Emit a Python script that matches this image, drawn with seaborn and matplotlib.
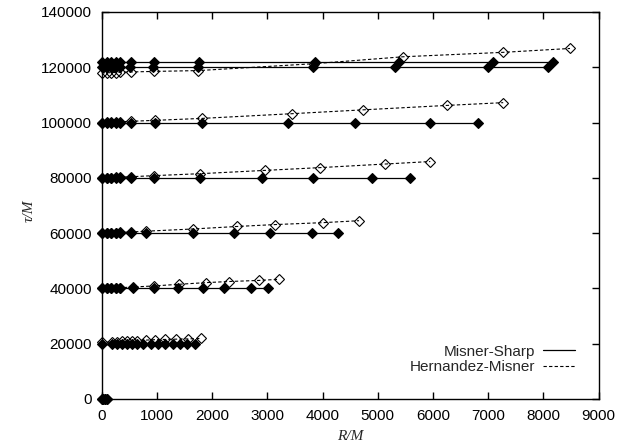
import matplotlib
matplotlib.use("Agg")
import matplotlib.pyplot as plt
from matplotlib.lines import Line2D
import pandas as pd
import seaborn as sns

# Shell radii R/M and proper times tau/M on each time slice.
# Misner-Sharp (filled diamonds, solid lines)
ms_r_0 = [0, 30, 60, 100]
ms_t_0 = 0
ms_r_20k = [0, 180, 270, 360, 450, 545, 635, 755, 895, 1025, 1145, 1285, 1420, 1550, 1690]
ms_t_20k = 20000
ms_r_40k = [0, 90, 170, 250, 340, 560, 950, 1390, 1830, 2215, 2700, 3020]
ms_t_40k = 40000
ms_r_60k = [0, 90, 170, 250, 340, 525, 805, 1650, 2390, 3050, 3800, 4280]
ms_t_60k = 60000
ms_r_80k = [0, 90, 170, 250, 340, 525, 947, 1780, 2900, 3822, 4891, 5580]
ms_t_80k = 80000
ms_r_100k = [0, 90, 170, 250, 340, 525, 966, 1812, 3380, 4590, 5950, 6820]
ms_t_100k = 100000
ms_r_120k = [0, 90, 170, 250, 340, 510, 930, 1740, 3830, 5320, 7000, 8080]
ms_t_120k = 120000
ms_r_122k = [0, 90, 170, 250, 340, 525, 950, 1760, 3870, 5380, 7080, 8180]
ms_t_122k = 122000

# Hernandez-Misner (open diamonds, dashed lines)
hm_r_0 = [0, 30, 60, 100]
hm_t_0 = [0, 0, 0, 0]
hm_r_20k = [0, 180, 270, 360, 450, 545, 635, 800, 965, 1150, 1345, 1570, 1800]
hm_t_20k = [20500, 20600, 20700, 20800, 20900, 21000, 21100, 21300, 21450, 21550, 21650, 21750, 21900]
hm_r_40k = [0, 90, 170, 250, 340, 560, 950, 1405, 1890, 2310, 2855, 3215]
hm_t_40k = [40000, 40050, 40100, 40150, 40250, 40500, 40900, 41500, 42100, 42500, 42900, 43300]
hm_r_60k = [0, 90, 170, 250, 340, 525, 805, 1650, 2445, 3140, 4015, 4660]
hm_t_60k = [60000, 60050, 60100, 60150, 60250, 60400, 60700, 61500, 62400, 63100, 63800, 64500]
hm_r_80k = [0, 90, 170, 250, 340, 525, 950, 1780, 2960, 3955, 5135, 5950]
hm_t_80k = [80000, 80050, 80100, 80150, 80250, 80400, 80800, 81500, 82700, 83700, 85000, 85900]
hm_r_100k = [0, 90, 170, 250, 340, 525, 966, 1812, 3440, 4735, 6250, 7270]
hm_t_100k = [100000, 100050, 100100, 100200, 100300, 100450, 100800, 101500, 103200, 104600, 106200, 107200]
hm_r_120k = [0, 90, 170, 250, 340, 525, 940, 1750, 3850, 5460, 7270, 8480]
hm_t_120k = [118000, 118000, 118050, 118100, 118200, 118300, 118500, 118800, 121300, 123800, 125400, 126800]

x_ticks = [0, 1000, 2000, 3000, 4000, 5000, 6000, 7000, 8000, 9000]
y_ticks = [0, 20000, 40000, 60000, 80000, 100000, 120000, 140000]
legend_labels = ["Misner-Sharp", "Hernandez-Misner"]

ms_slices = [
    (ms_r_0, ms_t_0), (ms_r_20k, ms_t_20k), (ms_r_40k, ms_t_40k),
    (ms_r_60k, ms_t_60k), (ms_r_80k, ms_t_80k), (ms_r_100k, ms_t_100k),
    (ms_r_120k, ms_t_120k), (ms_r_122k, ms_t_122k),
]
hm_slices = [
    (hm_r_0, hm_t_0), (hm_r_20k, hm_t_20k), (hm_r_40k, hm_t_40k),
    (hm_r_60k, hm_t_60k), (hm_r_80k, hm_t_80k), (hm_r_100k, hm_t_100k),
    (hm_r_120k, hm_t_120k),
]

rows = []
for k, (rs, t) in enumerate(ms_slices):
    for r in rs:
        rows.append({"R": r, "tau": t, "model": "MS", "slice": k})
for k, (rs, ts) in enumerate(hm_slices):
    for r, t in zip(rs, ts):
        rows.append({"R": r, "tau": t, "model": "HM", "slice": k})
df = pd.DataFrame(rows)

sns.set_style("ticks")
plt.rcParams["font.family"] = ["Liberation Sans", "DejaVu Sans"]

fig = plt.figure(figsize=(6.21, 4.47), dpi=100)
ax = fig.add_axes([0.1638, 0.1074, 0.8003, 0.8658])

for k, g in df[df.model == "MS"].groupby("slice"):
    sns.lineplot(data=g, x="R", y="tau", ax=ax, sort=False, estimator=None,
                 legend=False, color="black", linewidth=0.9, linestyle="-",
                 marker="D", markersize=5.2, markerfacecolor="black",
                 markeredgecolor="black", markeredgewidth=0.8, clip_on=False,
                 zorder=3)

for k, g in df[df.model == "HM"].groupby("slice"):
    sns.lineplot(data=g, x="R", y="tau", ax=ax, sort=False, estimator=None,
                 legend=False, color="black", linewidth=0.8,
                 linestyle=(0, (3, 2)),
                 marker="D", markersize=5.4, markerfacecolor="none",
                 markeredgecolor="black", markeredgewidth=0.8, clip_on=False,
                 zorder=4)

ax.set_xlim(0, 9000)
ax.set_ylim(0, 140000)
ax.set_xticks(x_ticks)
ax.set_yticks(y_ticks)
ax.set_xticklabels([str(v) for v in x_ticks])
ax.set_yticklabels([str(v) for v in y_ticks])
ax.tick_params(direction="in", length=5, width=1, top=True, right=True,
               labelsize=11, pad=7, colors="black")
for s in ax.spines.values():
    s.set_linewidth(1.0)
    s.set_color("black")

label_font = dict(family=["Liberation Serif", "DejaVu Serif"], style="italic",
                  fontsize=11)
ax.set_xlabel("R/M", **label_font)
ax.set_ylabel("\u03c4/M", **label_font)
ax.xaxis.set_label_coords(0.5, -0.08)
ax.yaxis.set_label_coords(-0.132, 0.486)

handles = [
    Line2D([], [], color="black", linewidth=0.9, linestyle="-"),
    Line2D([], [], color="black", linewidth=0.8, linestyle=(0, (3, 2))),
]
ax.legend(handles, legend_labels, loc="lower right", frameon=False,
          markerfirst=False, fontsize=11, handlelength=2.1,
          handletextpad=0.5, labelspacing=0.1, borderpad=0,
          borderaxespad=0, bbox_to_anchor=(0.926, 0.163),
          bbox_transform=fig.transFigure)

fig.savefig("out.png", dpi=100)
